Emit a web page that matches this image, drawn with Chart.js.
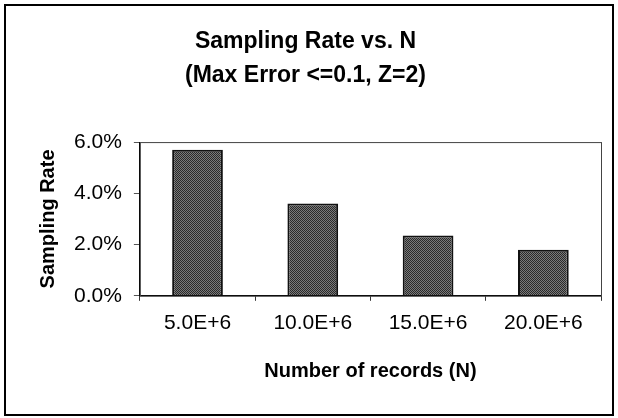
<!DOCTYPE html>
<html>
<head>
<meta charset="utf-8">
<script src="https://cdn.jsdelivr.net/npm/chart.js@4"></script>
<style>
  html, body { margin: 0; padding: 0; background: #fff; }
  #wrap { width: 618px; height: 418px; position: relative; }
</style>
</head>
<body>
<div id="wrap"><canvas id="chart"></canvas></div>
<script>
const categories = ["5.0E+6", "10.0E+6", "15.0E+6", "20.0E+6"];
const samplingRate = [5.7, 3.6, 2.35, 1.8]; // percent
const yTicks = [0, 2, 4, 6];

const FONT = "'Liberation Sans', Arial, Helvetica, sans-serif";

// stippled dark fill like the scanned bars
function stipple() {
    const c = document.createElement("canvas");
    c.width = 2; c.height = 2;
    const g = c.getContext("2d");
    g.fillStyle = "#7a7a7a"; g.fillRect(0, 0, 2, 2);
    g.fillStyle = "#2a2a2a"; g.fillRect(0, 0, 1, 1); g.fillRect(1, 1, 1, 1);
    return g.createPattern(c, "repeat");
}

// outer frame + plot area box
const frame = {
    id: "frame",
    beforeDatasetsDraw(chart) {
        const {ctx, chartArea: a} = chart;
        ctx.save();
        ctx.strokeStyle = "#444";
        ctx.lineWidth = 1;
        ctx.strokeRect(a.left + 0.5, a.top + 0.5, a.right - a.left, a.bottom - a.top);
        ctx.restore();
    },
    afterDraw(chart) {
        const ctx = chart.ctx;
        ctx.save();
        ctx.strokeStyle = "#000";
        ctx.lineWidth = 2;
        ctx.strokeRect(5, 5, chart.width - 10, chart.height - 8);
        ctx.restore();
    }
};

new Chart(document.getElementById("chart"), {
    type: "bar",
    data: {
        labels: categories,
        datasets: [{
            data: samplingRate,
            backgroundColor: stipple(),
            borderColor: "#111",
            borderWidth: 2,
            barPercentage: 0.44,
            categoryPercentage: 1
        }]
    },
    options: {
        responsive: true,
        maintainAspectRatio: false,
        animation: false,
        layout: { padding: { top: 25, left: 10, right: 17, bottom: 35 } },
        plugins: {
            legend: { display: false },
            tooltip: { enabled: false },
            title: {
                display: true,
                text: ["Sampling Rate vs. N", "(Max Error <=0.1, Z=2)"],
                color: "#000",
                font: { family: FONT, size: 23, weight: "bold", lineHeight: 1.48 },
                padding: { top: 0, bottom: 49 }
            }
        },
        scales: {
            x: {
                grid: { display: true, drawOnChartArea: false, drawTicks: true, tickLength: 5, color: "#333", offset: true },
                border: { display: true, color: "#000", width: 1 },
                ticks: { color: "#000", font: { family: FONT, size: 21 }, padding: 10 },
                title: {
                    display: true,
                    text: "Number of records (N)",
                    color: "#000",
                    font: { family: FONT, size: 20, weight: "bold" },
                    padding: { top: 13, bottom: 0 }
                }
            },
            y: {
                min: 0,
                max: 6,
                afterBuildTicks(scale) {
                    scale.ticks = yTicks.map(v => ({ value: v }));
                },
                grid: { display: true, drawOnChartArea: false, drawTicks: true, tickLength: 6, color: "#555" },
                border: { display: true, color: "#000", width: 1 },
                ticks: {
                    color: "#000",
                    font: { family: FONT, size: 21 },
                    padding: 12,
                    callback: v => v.toFixed(1) + "%"
                },
                title: {
                    display: true,
                    text: "Sampling Rate",
                    color: "#000",
                    font: { family: FONT, size: 20, weight: "bold" },
                    padding: { top: 26, bottom: 2 }
                }
            }
        }
    },
    plugins: [frame]
});
</script>
</body>
</html>
